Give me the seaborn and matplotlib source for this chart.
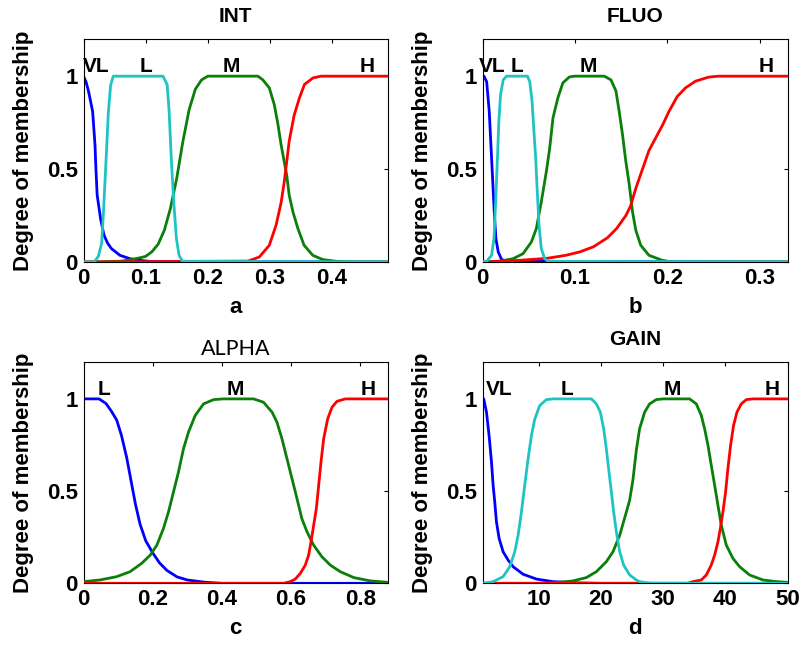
import matplotlib
matplotlib.use("Agg")
import matplotlib.pyplot as plt
import seaborn as sns
import pandas as pd

# ---------------- data ----------------
# INT
int_vl_x = [0, 0.004, 0.008, 0.0147, 0.0185, 0.020, 0.022, 0.0276, 0.033, 0.039, 0.045, 0.0586, 0.0746, 0.0907, 0.11, 0.49]
int_vl_y = [1, 0.97, 0.92, 0.81, 0.63, 0.50, 0.36, 0.23, 0.144, 0.10, 0.072, 0.036, 0.018, 0.009, 0.002, 0]
int_l_x = [0, 0.017, 0.0238, 0.0292, 0.0318, 0.0356, 0.0399, 0.0436, 0.0479, 0.128, 0.1346, 0.1378, 0.1415, 0.1453, 0.1495, 0.1538, 0.1592, 0.49]
int_l_y = [0, 0, 0.03, 0.10, 0.25, 0.50, 0.80, 0.95, 1.0, 1.0, 0.955, 0.81, 0.54, 0.32, 0.126, 0.036, 0.004, 0]
int_m_x = [0, 0.06, 0.075, 0.09, 0.1, 0.11, 0.12, 0.13, 0.14, 0.15, 0.16, 0.17, 0.18, 0.19, 0.2, 0.2806, 0.2886, 0.299,
           0.307, 0.313, 0.318, 0.323, 0.327, 0.331, 0.337, 0.345, 0.355, 0.369, 0.385, 0.406, 0.43, 0.49]
int_m_y = [0, 0.004, 0.012, 0.022, 0.03, 0.055, 0.095, 0.17, 0.29, 0.45, 0.65, 0.82, 0.93, 0.98, 1.0, 1.0, 0.98, 0.937,
           0.847, 0.739, 0.63, 0.54, 0.468, 0.36, 0.27, 0.18, 0.09, 0.036, 0.013, 0.004, 0, 0]
int_h_x = [0, 0.265, 0.283, 0.299, 0.31, 0.318, 0.323, 0.327, 0.331, 0.339, 0.3475, 0.3555, 0.369, 0.382, 0.49]
int_h_y = [0, 0.005, 0.027, 0.09, 0.2, 0.32, 0.43, 0.54, 0.65, 0.79, 0.883, 0.955, 0.99, 1.0, 1.0]

# FLUO
fluo_vl_x = [0, 0.0016, 0.0045, 0.0073, 0.0091, 0.0109, 0.0127, 0.0145, 0.017, 0.0206, 0.026, 0.33]
fluo_vl_y = [1, 1, 0.97, 0.81, 0.63, 0.45, 0.27, 0.126, 0.054, 0.014, 0.004, 0]
fluo_l_x = [0, 0.0045, 0.0098, 0.0124, 0.0142, 0.016, 0.0177, 0.0195, 0.0224, 0.026, 0.0486, 0.0511, 0.0536, 0.0554,
            0.0575, 0.059, 0.0611, 0.0636, 0.0672, 0.0708, 0.33]
fluo_l_y = [0, 0.004, 0.036, 0.126, 0.32, 0.54, 0.76, 0.9, 0.98, 1.0, 1.0, 0.97, 0.865, 0.72, 0.56, 0.40, 0.20, 0.072,
            0.018, 0.004, 0]
fluo_m_x = [0, 0.0197, 0.0332, 0.0439, 0.0529, 0.0582, 0.0636, 0.069, 0.0726, 0.0762, 0.0815, 0.0869, 0.094, 0.0995,
            0.1317, 0.1389, 0.1443, 0.1478, 0.1514, 0.155, 0.1586, 0.1622, 0.1658, 0.1711, 0.18, 0.1944, 0.205, 0.33]
fluo_m_y = [0, 0.005, 0.018, 0.045, 0.108, 0.18, 0.324, 0.486, 0.61, 0.775, 0.883, 0.964, 0.996, 1.0, 1.0, 0.98, 0.92,
            0.81, 0.685, 0.54, 0.42, 0.27, 0.17, 0.09, 0.036, 0.009, 0, 0]
fluo_h_x = [0, 0.02, 0.04, 0.07, 0.09, 0.105, 0.12, 0.135, 0.145, 0.155, 0.16, 0.166, 0.173, 0.18, 0.1875, 0.195,
            0.2016, 0.2105, 0.2195, 0.2303, 0.2446, 0.2554, 0.33]
fluo_h_y = [0, 0.004, 0.009, 0.02, 0.036, 0.054, 0.082, 0.13, 0.18, 0.25, 0.3, 0.4, 0.5, 0.6, 0.67, 0.74, 0.81, 0.89,
            0.937, 0.973, 0.995, 1.0, 1.0]

# ALPHA
alpha_l_x = [0, 0.045, 0.065, 0.08, 0.096, 0.11, 0.125, 0.14, 0.15, 0.1635, 0.18, 0.2, 0.22, 0.241, 0.27, 0.30, 0.35,
             0.40, 0.88]
alpha_l_y = [1, 1, 0.975, 0.935, 0.885, 0.8, 0.68, 0.53, 0.43, 0.32, 0.23, 0.165, 0.11, 0.07, 0.035, 0.018, 0.006, 0, 0]
alpha_m_x = [0, 0.0478, 0.096, 0.1346, 0.168, 0.193, 0.212, 0.231, 0.2456, 0.26, 0.2745, 0.289, 0.3035, 0.3228, 0.347,
             0.376, 0.4045, 0.4916, 0.52, 0.545, 0.559, 0.5735, 0.588, 0.6025, 0.617, 0.631, 0.646, 0.665, 0.689,
             0.713, 0.742, 0.781, 0.829, 0.88]
alpha_m_y = [0.009, 0.018, 0.036, 0.063, 0.108, 0.153, 0.207, 0.297, 0.387, 0.495, 0.604, 0.73, 0.82, 0.91, 0.973,
             0.996, 1.0, 1.0, 0.982, 0.928, 0.874, 0.784, 0.676, 0.568, 0.459, 0.351, 0.279, 0.207, 0.144, 0.099,
             0.063, 0.031, 0.013, 0.005]
alpha_h_x = [0, 0.5783, 0.5977, 0.612, 0.6266, 0.641, 0.6507, 0.6575, 0.6652, 0.6729, 0.6797, 0.6864, 0.6941, 0.7057,
             0.7182, 0.7327, 0.7568, 0.88]
alpha_h_y = [0, 0, 0.009, 0.023, 0.054, 0.099, 0.153, 0.225, 0.315, 0.405, 0.532, 0.658, 0.784, 0.892, 0.955, 0.987,
             1.0, 1.0]

# GAIN
gain_vl_x = [1, 1.2, 1.64, 2.06, 2.44, 2.71, 2.97, 3.24, 3.67, 4.31, 5.11, 5.91, 7.52, 9.66, 12.3, 16.6, 20, 50]
gain_vl_y = [1, 1, 0.928, 0.8, 0.658, 0.53, 0.44, 0.333, 0.243, 0.171, 0.126, 0.09, 0.049, 0.023, 0.009, 0.002, 0, 0]
gain_l_x = [1, 1.23, 2.7, 4.31, 5.38, 6.18, 6.72, 7.25, 7.78, 8.32, 8.85, 9.39, 10.19, 11.26, 12.33, 18.48, 19.28,
            19.92, 20.46, 20.88, 21.31, 21.69, 22.06, 22.49, 23.03, 23.66, 24.63, 25.7, 26.2, 28, 50]
gain_l_y = [0, 0, 0.009, 0.036, 0.09, 0.171, 0.261, 0.387, 0.532, 0.676, 0.8, 0.89, 0.964, 0.996, 1, 1, 0.973, 0.928,
            0.838, 0.73, 0.604, 0.495, 0.387, 0.279, 0.171, 0.099, 0.045, 0.018, 0.009, 0, 0]
gain_m_x = [1, 10, 12.86, 15.53, 17.67, 19.28, 20.88, 21.95, 23.03, 24.1, 24.62, 25.15, 25.69, 26.22, 27.03, 27.83,
            28.9, 29.97, 34.25, 35.32, 36.13, 36.66, 37.2, 37.73, 38.27, 38.8, 39.34, 40.14, 41.21, 42.28, 43.89,
            46.03, 48.17, 50]
gain_m_y = [0, 0, 0.004, 0.013, 0.031, 0.063, 0.117, 0.171, 0.261, 0.387, 0.45, 0.56, 0.72, 0.838, 0.928, 0.973,
            0.996, 1.0, 1.0, 0.973, 0.91, 0.838, 0.748, 0.64, 0.532, 0.423, 0.315, 0.207, 0.135, 0.09, 0.045, 0.018,
            0.009, 0.005]
gain_h_x = [1, 34, 34.78, 36.13, 36.93, 37.73, 38.27, 38.8, 39.18, 39.6, 40.03, 40.4, 40.83, 41.31, 41.85, 42.55,
            43.35, 44.42, 50]
gain_h_y = [0, 0, 0.009, 0.018, 0.045, 0.099, 0.153, 0.225, 0.297, 0.387, 0.495, 0.622, 0.748, 0.856, 0.928, 0.973,
            0.996, 1.0, 1.0]

# labels
titles = ["INT", "FLUO", "ALPHA", "GAIN"]
sub_labels = ["a", "b", "c", "d"]
int_names = ["VL", "L", "M", "H"]
int_name_x = [0.021, 0.100, 0.238, 0.457]
fluo_names = ["VL", "L", "M", "H"]
fluo_name_x = [0.0104, 0.0373, 0.114, 0.307]
alpha_names = ["L", "M", "H"]
alpha_name_x = [0.059, 0.438, 0.824]
gain_names = ["VL", "L", "M", "H"]
gain_name_x = [3.6, 14.6, 31.4, 47.5]

int_xticks = [0, 0.1, 0.2, 0.3, 0.4]
fluo_xticks = [0, 0.1, 0.2, 0.3]
alpha_xticks = [0, 0.2, 0.4, 0.6, 0.8]
gain_xticks = [10, 20, 30, 40, 50]
y_ticks = [0, 0.5, 1]
y_ticklabels = ["0", "0.5", "1"]

# ---------------- style ----------------
sns.set_theme(style="white")
plt.rcParams['font.family'] = ['Liberation Sans', 'DejaVu Sans']
plt.rcParams['font.weight'] = 'bold'
plt.rcParams['axes.labelweight'] = 'bold'
plt.rcParams['text.color'] = 'black'
plt.rcParams['axes.labelcolor'] = 'black'
plt.rcParams['xtick.color'] = 'black'
plt.rcParams['ytick.color'] = 'black'

COL = {"VL": "#0000FF", "L": "#1EC4C4", "M": "#0A7F0A", "H": "#FF0000"}
ZORD = {"VL": 2, "M": 3, "H": 4, "L": 5}

fig = plt.figure(figsize=(8.0, 6.46), dpi=100)
W, H = 800, 646
boxes = [(83.5, 39, 388, 262), (482.5, 39, 787.7, 262),
         (83.5, 362, 388, 583.3), (482.5, 362, 787.7, 583.3)]
axes = [fig.add_axes([l / W, 1 - b / H, (r - l) / W, (b - t) / H]) for (l, t, r, b) in boxes]

panels = [
    dict(curves=[("VL", int_vl_x, int_vl_y), ("L", int_l_x, int_l_y), ("M", int_m_x, int_m_y), ("H", int_h_x, int_h_y)],
         names=int_names, name_x=int_name_x, xlim=(0, 0.49), xticks=int_xticks,
         xticklabels=["0", "0.1", "0.2", "0.3", "0.4"]),
    dict(curves=[("VL", fluo_vl_x, fluo_vl_y), ("L", fluo_l_x, fluo_l_y), ("M", fluo_m_x, fluo_m_y), ("H", fluo_h_x, fluo_h_y)],
         names=fluo_names, name_x=fluo_name_x, xlim=(0, 0.33), xticks=fluo_xticks,
         xticklabels=["0", "0.1", "0.2", "0.3"]),
    dict(curves=[("VL", alpha_l_x, alpha_l_y), ("M", alpha_m_x, alpha_m_y), ("H", alpha_h_x, alpha_h_y)],
         names=alpha_names, name_x=alpha_name_x, xlim=(0, 0.88), xticks=alpha_xticks,
         xticklabels=["0", "0.2", "0.4", "0.6", "0.8"]),
    dict(curves=[("VL", gain_vl_x, gain_vl_y), ("L", gain_l_x, gain_l_y), ("M", gain_m_x, gain_m_y), ("H", gain_h_x, gain_h_y)],
         names=gain_names, name_x=gain_name_x, xlim=(1, 50), xticks=gain_xticks,
         xticklabels=["10", "20", "30", "40", "50"]),
]

for i, (ax, p) in enumerate(zip(axes, panels)):
    for key, xs, ys in p["curves"]:
        df = pd.DataFrame({"x": xs, "y": ys})
        sns.lineplot(data=df, x="x", y="y", ax=ax, color=COL[key], linewidth=2.0,
                     estimator=None, sort=False, zorder=ZORD[key])
    for name, nx in zip(p["names"], p["name_x"]):
        ax.text(nx, 1.02, name, ha="center", va="baseline", fontsize=15, fontweight="bold", color="black", zorder=6)
    ax.set_xlim(*p["xlim"])
    ax.set_ylim(0, 1.2)
    ax.set_xticks(p["xticks"])
    ax.set_xticklabels(p["xticklabels"])
    ax.set_yticks(y_ticks)
    ax.set_yticklabels(y_ticklabels)
    ax.tick_params(direction="in", top=True, right=True, length=3, width=0.8, labelsize=16, pad=4,
                   colors="black")
    for s in ax.spines.values():
        s.set_color("black")
        s.set_linewidth(0.8)
    ax.set_xlabel(sub_labels[i], fontsize=16, fontweight="bold", labelpad=6, color="black")
    ax.set_ylabel("Degree of membership", fontsize=16, fontweight="bold", labelpad=9, color="black")
    if titles[i] == "ALPHA":
        ax.set_title(titles[i], fontsize=15.5, fontweight="normal", family=["Lato", "DejaVu Sans"], pad=5,
                     color="black")
    else:
        ax.set_title(titles[i], fontsize=15, fontweight="bold", pad=12, color="black")

fig.savefig("out.png", dpi=100)
